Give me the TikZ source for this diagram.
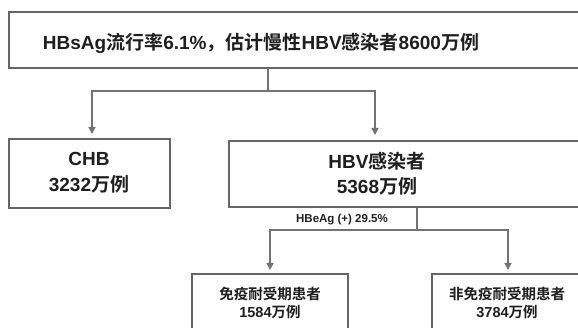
\documentclass[tikz,border=0pt]{standalone}
\usepackage{fontspec}
\setmainfont{Liberation Sans}
\newfontfamily\cjk{Noto Sans CJK SC}[BoldFont={Noto Sans CJK SC Bold}]
\usetikzlibrary{arrows.meta}
\begin{document}
\begin{tikzpicture}[x=1pt,y=-1pt,
  box/.style={draw=black!60,line width=1.1pt,fill=white,inner sep=0pt},
  conn/.style={draw=black!55,line width=1.4pt},
  arr/.style={conn,-{Triangle[length=7pt,width=7pt]}},
  txt/.style={text=black!88,font=\bfseries,align=center,inner sep=0pt}]
\useasboundingbox (0,0) rectangle (578,328);
\clip (0,0) rectangle (578,328);
% boxes
\node[box,minimum width=591pt,minimum height=56pt] (top) at (304.5,40) {};
\node[box,minimum width=161pt,minimum height=69pt] (chb) at (89.5,173.5) {};
\node[box,minimum width=371pt,minimum height=66pt] (hbv) at (414.5,174) {};
\node[box,minimum width=156pt,minimum height=80pt] (imm) at (270,314) {};
\node[box,minimum width=158pt,minimum height=80pt] (nim) at (511,314) {};
% texts
\node[txt,font=\bfseries\fontsize{19}{22}\selectfont] (ttop) at (261,43) {HBsAg{\cjk 流行率}6.1\%{\cjk ，估计慢性}HBV{\cjk 感染者}8600{\cjk 万例}};
\node[txt,font=\bfseries\fontsize{19}{26}\selectfont] (tchb) at (89,173) {CHB\\3232{\cjk 万例}};
\node[txt,font=\bfseries\fontsize{19}{25}\selectfont] (thbv) at (377,174) {HBV{\cjk 感染者}\\5368{\cjk 万例}};
\node[txt,font=\bfseries\fontsize{14.5}{18}\selectfont] (timm) at (270,303) {{\cjk 免疫耐受期患者}\\1584{\cjk 万例}};
\node[txt,font=\bfseries\fontsize{14.5}{18}\selectfont] (tnim) at (507,303) {{\cjk 非免疫耐受期患者}\\3784{\cjk 万例}};
\node[txt,font=\bfseries\fontsize{11.5}{14}\selectfont] (lab) at (342,220) {HBeAg (+) 29.5\%};
% connectors
\coordinate (j1) at (268,91);
\coordinate (a1) at (92,134);
\coordinate (a2) at (375,135);
\draw[conn] (j1 |- top.south) -- (j1);
\draw[arr] (j1) -| (a1);
\draw[arr] (j1) -| (a2);
\coordinate (j2) at (417,230);
\coordinate (b1) at (270,270);
\coordinate (b2) at (508,270);
\draw[conn] (j2 |- hbv.south) -- (j2);
\draw[arr] (j2) -| (b1);
\draw[arr] (j2) -| (b2);
\end{tikzpicture}
\end{document}
